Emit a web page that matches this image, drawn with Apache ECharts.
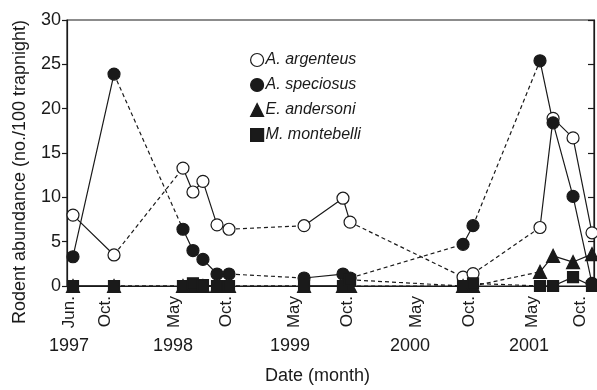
<!DOCTYPE html>
<html>
<head>
<meta charset="utf-8">
<script src="https://cdn.jsdelivr.net/npm/echarts@6/dist/echarts.min.js"></script>
<style>html,body{margin:0;padding:0;background:#fff;}#c{width:597px;height:390px;}</style>
</head>
<body>
<div id="c"></div>
<script>
// x = month index since Jan 1997 (Jan 1997 = 0)
const sampleMonths = [5, 9.11, 16.02, 17.02, 18.02, 19.43, 20.63, 28.15, 32.05, 32.76, 44.08, 45.08, 51.79, 53.10, 55.10, 57.0];
const season = [1997, 1997, 1998, 1998, 1998, 1998, 1998, 1999, 1999, 1999, 2000, 2000, 2001, 2001, 2001, 2001];
const argenteus  = [8.0, 3.5, 13.3, 10.6, 11.8, 6.9, 6.4, 6.8, 9.9, 7.2, 1.0, 1.4, 6.6, 18.9, 16.7, 6.0];
const speciosus  = [3.3, 23.9, 6.4, 4.0, 3.0, 1.35, 1.35, 0.9, 1.35, 0.9, 4.7, 6.8, 25.4, 18.4, 10.1, 0.3];
const andersoni  = [0, 0, 0, 0, 0, 0, 0, 0, 0, 0, 0, 0, 1.6, 3.4, 2.7, 3.6];
const montebelli = [0, 0, 0, 0.3, 0.1, 0, 0, 0, 0, 0.7, 0, 0.3, 0, 0, 1.0, 0];

const monthTickPos = [4.6, 8.21, 15.12, 20.33, 27.14, 32.45, 39.37, 44.68, 50.99, 55.80];
const monthTickText = ['Jun.', 'Oct.', 'May', 'Oct.', 'May', 'Oct.', 'May', 'Oct.', 'May', 'Oct.'];
const yearTickPos = [4.6, 15.02, 26.74, 38.77, 50.69];
const yearTickText = ['1997', '1998', '1999', '2000', '2001'];

const FONT = 'Liberation Sans, Arial, sans-serif';
const INK = '#1a1a1a';

function splitSeries(vals) {
  const solid = [], dashed = [];
  for (let i = 0; i < vals.length; i++) {
    if (i > 0 && season[i] !== season[i - 1]) {
      solid.push([sampleMonths[i], '-']);
      dashed.push([sampleMonths[i - 1], vals[i - 1]]);
      dashed.push([sampleMonths[i], vals[i]]);
      dashed.push([sampleMonths[i], '-']);
    }
    solid.push([sampleMonths[i], vals[i]]);
  }
  return { solid, dashed };
}

const species = [
  { name: 'A. argenteus', vals: argenteus, symbol: 'circle', size: 12, fill: '#fff' },
  { name: 'A. speciosus', vals: speciosus, symbol: 'circle', size: 12, fill: INK },
  { name: 'E. andersoni', vals: andersoni, symbol: 'triangle', size: 13, fill: INK },
  { name: 'M. montebelli', vals: montebelli, symbol: 'rect', size: 11, fill: INK }
];

const series = [];
species.forEach((sp) => {
  const s = splitSeries(sp.vals);
  series.push({
    type: 'line', data: s.solid, symbol: 'none', connectNulls: false, silent: true,
    lineStyle: { color: INK, width: 1.2, type: 'solid' }, z: 2, animation: false
  });
  series.push({
    type: 'line', data: s.dashed, symbol: 'none', connectNulls: false, silent: true,
    lineStyle: { color: INK, width: 1.2, type: [4, 3] }, z: 2, animation: false
  });
});
species.forEach((sp, k) => {
  series.push({
    name: sp.name, type: 'scatter', clip: false,
    data: sp.vals.map((v, i) => [sampleMonths[i], v]),
    symbol: sp.symbol, symbolSize: sp.size,
    itemStyle: { color: sp.fill, borderColor: INK, borderWidth: 1.2, opacity: 1 },
    z: 3 + k, animation: false
  });
});

const option = {
  animation: false,
  backgroundColor: '#fff',
  grid: { left: 67, right: 3, top: 20, bottom: 104, show: true, borderColor: INK, borderWidth: 1.2, backgroundColor: 'transparent' },
  legend: {
    orient: 'vertical', left: 245, top: 47, itemGap: 9, itemWidth: 13, itemHeight: 13,
    textStyle: { fontFamily: FONT, fontSize: 16, fontStyle: 'italic', color: INK, lineHeight: 16, padding: [0, 0, 0, -3] },
    data: species.map(sp => ({
      name: sp.name, icon: sp.symbol,
      itemStyle: { color: sp.fill, borderColor: INK, borderWidth: 1.2 }
    })),
    selectedMode: false
  },
  xAxis: [
    {
      type: 'value', min: 4.4, max: 57.2, position: 'bottom',
      axisLine: { show: true, lineStyle: { color: INK, width: 1.2 } },
      axisTick: { show: false },
      splitLine: { show: false },
      axisLabel: {
        customValues: monthTickPos, rotate: 90, margin: 10,
        fontFamily: FONT, fontSize: 17, color: INK,
        formatter: (v) => { const i = monthTickPos.indexOf(v); return i >= 0 ? monthTickText[i] : ''; }
      }
    },
    {
      type: 'value', min: 4.4, max: 57.2, position: 'bottom',
      axisLine: { show: false }, axisTick: { show: false }, splitLine: { show: false },
      axisLabel: {
        customValues: yearTickPos, margin: 51,
        fontFamily: FONT, fontSize: 18, color: INK,
        formatter: (v) => { const i = yearTickPos.indexOf(v); return i >= 0 ? yearTickText[i] : ''; }
      },
      name: 'Date (month)', nameLocation: 'middle', nameGap: 81,
      nameTextStyle: { fontFamily: FONT, fontSize: 18, color: INK, padding: [0, 26, 0, 0] }
    }
  ],
  yAxis: [
    {
      type: 'value', min: 0, max: 30, interval: 5, position: 'left',
      axisLine: { show: true, lineStyle: { color: INK, width: 1.2 } },
      axisTick: { show: true, inside: false, length: 5, lineStyle: { color: INK, width: 1.2 } },
      splitLine: { show: false },
      axisLabel: { fontFamily: FONT, fontSize: 18, color: INK, margin: 6 },
      name: 'Rodent abundance (no./100 trapnight)', nameLocation: 'middle', nameGap: 38,
      nameTextStyle: { fontFamily: FONT, fontSize: 18, color: INK, padding: [0, 38, 0, 0] }
    },
    {
      type: 'value', min: 0, max: 30, interval: 5, position: 'right',
      axisLine: { show: true, lineStyle: { color: INK, width: 1.2 } },
      axisTick: { show: true, inside: true, length: 6, lineStyle: { color: INK, width: 1.2 } },
      splitLine: { show: false },
      axisLabel: { show: false }
    }
  ],
  series: series
};

const chart = echarts.init(document.getElementById('c'), null, { renderer: 'canvas' });
chart.setOption(option);
</script>
</body>
</html>
